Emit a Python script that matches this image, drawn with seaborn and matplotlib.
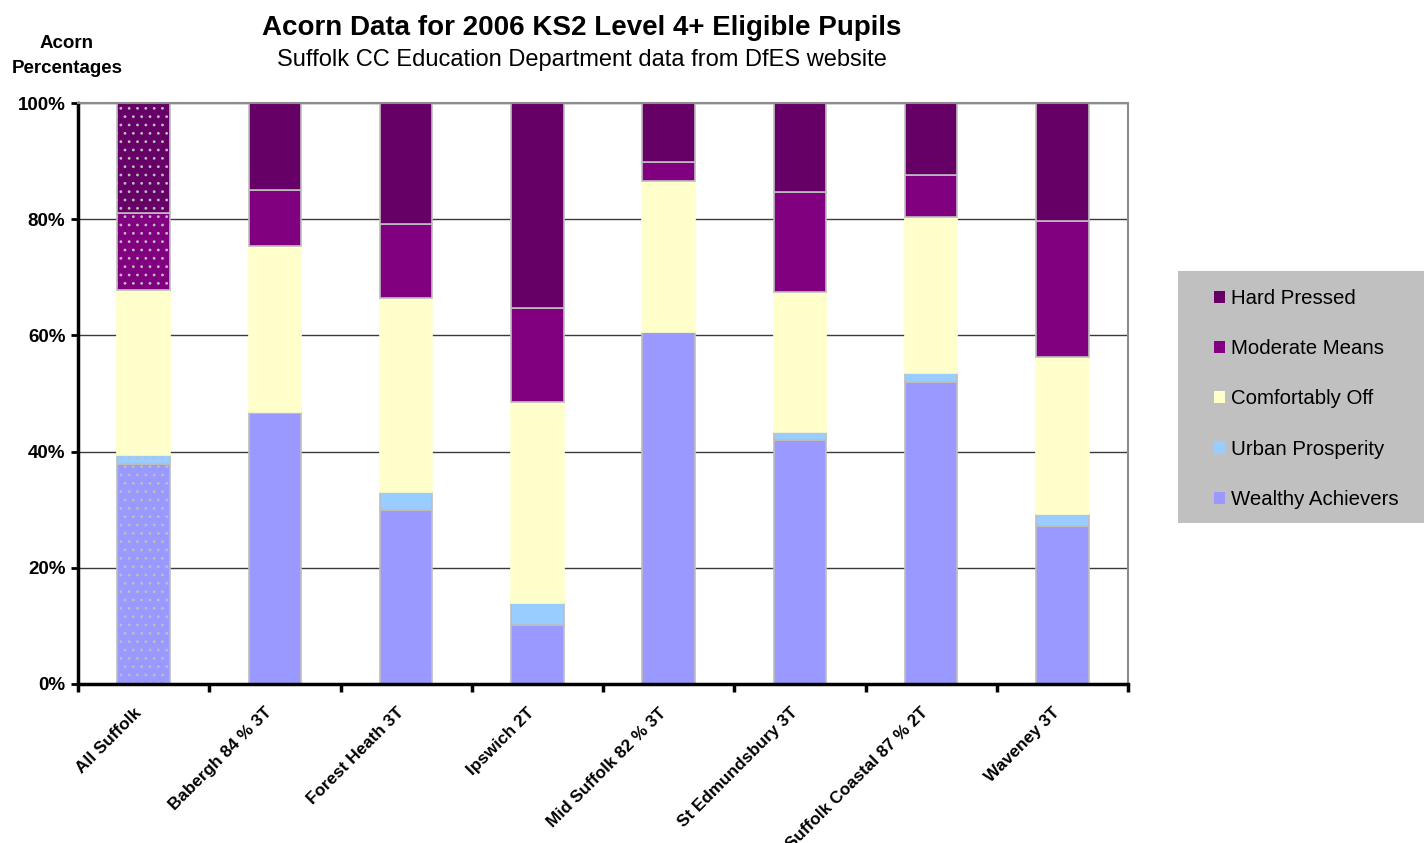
import numpy as np
import pandas as pd
import matplotlib
matplotlib.use("Agg")
import matplotlib.pyplot as plt
from matplotlib.patches import Patch, Rectangle
from matplotlib.ticker import FixedLocator, FuncFormatter
from matplotlib.transforms import ScaledTranslation
import seaborn as sns

# ---------------- data ----------------
areas = ["All Suffolk", "Babergh 84 % 3T", "Forest Heath 3T", "Ipswich 2T",
         "Mid Suffolk 82 % 3T", "St Edmundsbury 3T", "Suffolk Coastal 87 % 2T",
         "Waveney 3T"]
wealthy_achievers = [37.8, 46.6, 29.9, 10.2, 60.5, 42.0, 52.0, 27.2]
urban_prosperity = [1.6, 0.2, 3.1, 3.7, 0.1, 1.4, 1.5, 2.1]
comfortably_off = [28.5, 28.6, 33.4, 34.7, 26.0, 24.1, 26.8, 27.0]
moderate_means = [13.2, 9.6, 12.8, 16.2, 3.3, 17.2, 7.3, 23.4]
hard_pressed = [18.9, 15.0, 20.8, 35.2, 10.1, 15.3, 12.4, 20.3]

series_names = ["Wealthy Achievers", "Urban Prosperity", "Comfortably Off",
                "Moderate Means", "Hard Pressed"]
series_values = [wealthy_achievers, urban_prosperity, comfortably_off,
                 moderate_means, hard_pressed]
series_colors = ["#9999FF", "#99CCFF", "#FFFFCC", "#800080", "#660066"]
series_edges = ["#BEBEBE", "#BEBEBE", "#FFFFCC", "#BEBEBE", "#BEBEBE"]
y_ticks = [0, 20, 40, 60, 80, 100]

# ---------------- figure ----------------
plt.rcParams["font.family"] = ["Liberation Sans", "DejaVu Sans"]
plt.rcParams["hatch.linewidth"] = 0.8
W, H = 1424, 843
fig = plt.figure(figsize=(W / 100, H / 100), dpi=100)
fig.patch.set_facecolor("white")
ax_l, ax_r, ax_t, ax_b = 78, 1128, 103, 684
ax = fig.add_axes([ax_l / W, 1 - ax_b / H, (ax_r - ax_l) / W, (ax_b - ax_t) / H])

ax.set_axisbelow(True)
ax.yaxis.grid(True, color="#3A3A3A", linewidth=1.0)

bottom = np.zeros(len(areas))
n = len(areas)
for name, vals, col, ec in zip(series_names, series_values, series_colors, series_edges):
    df = pd.DataFrame({"area": areas, "value": vals})
    sns.barplot(data=df, x="area", y="value", order=areas, color=col,
                width=0.40, edgecolor=ec, linewidth=1.2, bottom=bottom.copy(),
                errorbar=None, saturation=1, ax=ax)
    bottom = bottom + np.array(vals)

# dotted pattern on the "All Suffolk" column
for i, p in enumerate(ax.patches):
    if i % n == 0:
        p.set_hatch("..")
        if hasattr(p, "set_hatchcolor"):
            p.set_hatchcolor("#E8D4EC")

ax.set_xlim(-0.5, n - 0.5)
ax.set_ylim(0, 100)
ax.set_xlabel("")
ax.set_ylabel("")

# spines
for s in ["top", "right"]:
    ax.spines[s].set_color("#8C8C8C")
    ax.spines[s].set_linewidth(1.5)
for s in ["left", "bottom"]:
    ax.spines[s].set_color("black")
    ax.spines[s].set_linewidth(2.5)

# y ticks
ax.yaxis.set_major_locator(FixedLocator(y_ticks))
ax.yaxis.set_major_formatter(FuncFormatter(lambda v, p: f"{int(v)}%"))
ax.tick_params(axis="y", direction="out", length=5, width=2, color="black",
               pad=4, labelsize=13.5)
for lab in ax.get_yticklabels():
    lab.set_fontweight("bold")

# x ticks: labels at centers, tick marks at boundaries
ax.set_xticks(range(n))
ax.set_xticks(np.arange(-0.5, n, 1.0), minor=True)
ax.tick_params(axis="x", which="major", length=0, pad=19)
ax.tick_params(axis="x", which="minor", direction="out", length=6, width=2.5,
               color="black")
ax.set_xticklabels(areas, rotation=45, ha="right", va="center",
                   rotation_mode="anchor", fontsize=12.3, fontweight="bold")
shift = ScaledTranslation(-5 / 100, 0, fig.dpi_scale_trans)
for t in ax.xaxis.get_major_ticks():
    t.label1.set_transform(t.label1.get_transform() + shift)

# titles
fig.text(582 / W, 1 - 28 / H, "Acorn Data for 2006 KS2 Level 4+ Eligible Pupils",
         ha="center", va="center", fontsize=20, fontweight="bold")
fig.text(582 / W, 1 - 60 / H, "Suffolk CC Education Department data from DfES website",
         ha="center", va="center", fontsize=17)
fig.text(67 / W, 1 - 56 / H, "Acorn\nPercentages", ha="center", va="center",
         fontsize=13.5, fontweight="bold", linespacing=1.55)

# legend box
fig.add_artist(Rectangle((1178 / W, 1 - 523 / H), (1424 - 1178) / W, (523 - 271) / H,
                         transform=fig.transFigure, facecolor="#C0C0C0",
                         edgecolor="none", zorder=0))
handles = [Patch(facecolor=c, edgecolor="none") for c in series_colors[::-1]]
labels = series_names[::-1]
leg = fig.legend(handles, labels, loc="upper left",
                 bbox_to_anchor=(1214 / W, 1 - 289 / H),
                 bbox_transform=fig.transFigure, frameon=False, fontsize=14.7,
                 handlelength=0.55, handleheight=0.55, handletextpad=0.3,
                 labelspacing=1.53, borderpad=0, borderaxespad=0)

fig.savefig("out.png", dpi=100)
